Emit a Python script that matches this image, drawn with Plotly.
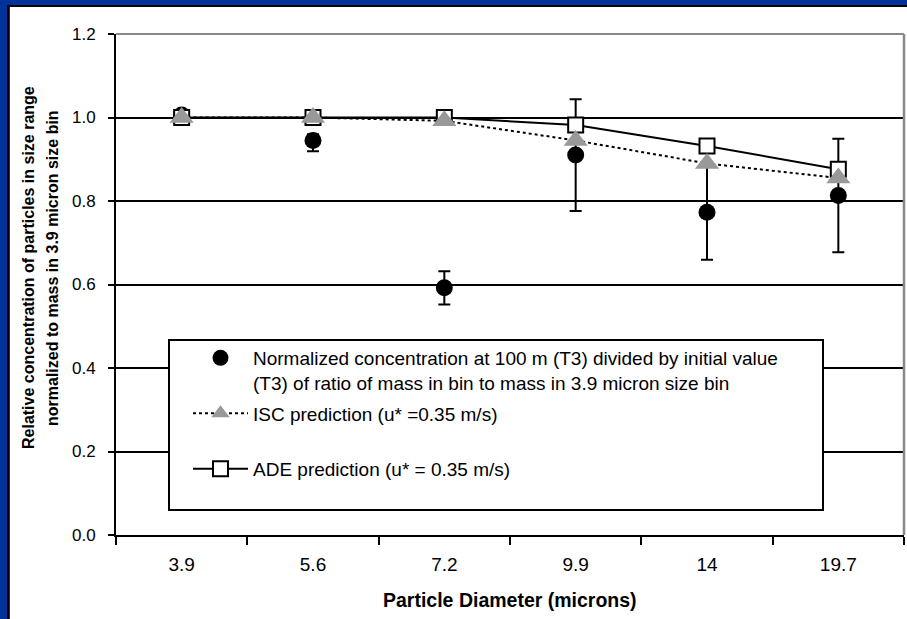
import plotly.graph_objects as go

# Particle size bins (microns)
diameters = ["3.9", "5.6", "7.2", "9.9", "14", "19.7"]

# Measured relative concentration and its uncertainty (upper / lower)
measured = [1.006, 0.945, 0.592, 0.910, 0.773, 0.813]
measured_err_plus = [0.0, 0.015, 0.040, 0.134, 0.114, 0.136]
measured_err_minus = [0.0, 0.026, 0.040, 0.134, 0.114, 0.136]

# Model predictions
isc_pred = [1.0, 1.0, 0.992, 0.945, 0.890, 0.855]
ade_pred = [1.0, 1.0, 1.0, 0.982, 0.932, 0.876]

y_ticks = [0.0, 0.2, 0.4, 0.6, 0.8, 1.0, 1.2]

W, H = 907, 619
ML, MR, MT, MB = 116, 3, 34, 84
PW = W - ML - MR
PH = H - MT - MB


def px_x(px):
    return (px - ML) / PW


def px_y(py):
    return (H - MB - py) / PH


FONT = "Liberation Sans, Arial, sans-serif"

fig = go.Figure()

fig.add_trace(go.Scatter(
    x=diameters, y=measured, mode="markers",
    name="Normalized concentration at 100 m (T3) divided by initial value<br>"
         "(T3) of ratio of mass in bin to mass in 3.9 micron size bin",
    marker=dict(symbol="circle", size=17, color="black"),
    error_y=dict(type="data", symmetric=False,
                 array=measured_err_plus, arrayminus=measured_err_minus,
                 visible=True, color="black", thickness=2, width=6),
    legendrank=1, legendgroup="a",
))

fig.add_trace(go.Scatter(
    x=diameters, y=ade_pred, mode="lines+markers",
    name="ADE prediction (u* = 0.35 m/s)",
    line=dict(color="black", width=2),
    marker=dict(symbol="square", size=15, color="white",
                line=dict(color="black", width=2)),
    legendrank=3, legendgroup="c",
))

fig.add_trace(go.Scatter(
    x=diameters, y=isc_pred, mode="lines+markers",
    name="ISC prediction (u* =0.35 m/s)<br> ",
    line=dict(color="black", width=2, dash="dot"),
    marker=dict(symbol="triangle-up", size=21, color="#999999"),
    legendrank=2, legendgroup="b",
))

shapes = []
# gray plot border along the top and right
shapes.append(dict(type="line", xref="paper", yref="paper", x0=0, x1=1, y0=1, y1=1,
                   line=dict(color="#888888", width=2), layer="above"))
shapes.append(dict(type="line", xref="paper", yref="paper", x0=1, x1=1, y0=0, y1=1,
                   line=dict(color="#888888", width=2.5), layer="above"))
# white legend panel with black frame
shapes.append(dict(type="rect", xref="paper", yref="paper",
                   x0=px_x(169), x1=px_x(823), y0=px_y(510), y1=px_y(340),
                   fillcolor="white", line=dict(color="black", width=2), layer="above"))
# slide frame: blue band with dark rule on the left and top
shapes.append(dict(type="rect", xref="paper", yref="paper",
                   x0=px_x(0), x1=px_x(7), y0=px_y(H), y1=px_y(0),
                   fillcolor="#003399", line=dict(width=0), layer="above"))
shapes.append(dict(type="rect", xref="paper", yref="paper",
                   x0=px_x(7), x1=px_x(9), y0=px_y(H), y1=px_y(5),
                   fillcolor="black", line=dict(width=0), layer="above"))
shapes.append(dict(type="rect", xref="paper", yref="paper",
                   x0=px_x(9), x1=px_x(10), y0=px_y(H), y1=px_y(7),
                   fillcolor="#003399", line=dict(width=0), layer="above"))
shapes.append(dict(type="rect", xref="paper", yref="paper",
                   x0=px_x(0), x1=px_x(W), y0=px_y(5), y1=px_y(0),
                   fillcolor="#003399", line=dict(width=0), layer="above"))
shapes.append(dict(type="rect", xref="paper", yref="paper",
                   x0=px_x(7), x1=px_x(W), y0=px_y(7), y1=px_y(5),
                   fillcolor="black", line=dict(width=0), layer="above"))

annotations = [
    dict(text="<b>Relative concentration of particles in size range</b>",
         xref="paper", yref="paper", x=px_x(28), y=px_y(268),
         textangle=-90, showarrow=False, font=dict(size=16, color="black", family=FONT),
         xanchor="center", yanchor="middle"),
    dict(text="<b>normalized to mass in 3.9 micron size bin</b>",
         xref="paper", yref="paper", x=px_x(52), y=px_y(268),
         textangle=-90, showarrow=False, font=dict(size=16, color="black", family=FONT),
         xanchor="center", yanchor="middle"),
    dict(text="<b>Particle Diameter (microns)</b>",
         xref="paper", yref="paper", x=px_x(510), y=px_y(600),
         showarrow=False, font=dict(size=19.5, color="black", family=FONT),
         xanchor="center", yanchor="middle"),
]

fig.update_layout(
    width=W, height=H,
    margin=dict(l=ML, r=MR, t=MT, b=MB, pad=0),
    paper_bgcolor="white", plot_bgcolor="white",
    font=dict(family=FONT, color="black"),
    showlegend=True,
    legend=dict(
        x=px_x(188), y=px_y(339), xanchor="left", yanchor="top",
        bgcolor="rgba(0,0,0,0)", borderwidth=0,
        font=dict(size=19, family=FONT, color="black"),
        itemwidth=55, valign="top", tracegroupgap=3,
        traceorder="grouped",
    ),
    xaxis=dict(
        type="category", categoryorder="array", categoryarray=diameters,
        range=[-0.5, 5.5], tickson="boundaries",
        ticks="outside", ticklen=8, tickwidth=2, tickcolor="black",
        showline=True, linecolor="black", linewidth=2,
        showgrid=False, zeroline=False,
        tickfont=dict(size=19, family=FONT, color="black"),
        ticklabelstandoff=11,
    ),
    yaxis=dict(
        range=[0, 1.2], tickvals=y_ticks, tickformat=".1f",
        ticks="outside", ticklen=6, tickwidth=2, tickcolor="black",
        showline=True, linecolor="black", linewidth=2,
        showgrid=True, gridcolor="black", gridwidth=1.5, zeroline=False,
        tickfont=dict(size=17, family=FONT, color="black"),
        ticklabelstandoff=9,
    ),
    shapes=shapes,
    annotations=annotations,
)

fig.write_html("out.html")
